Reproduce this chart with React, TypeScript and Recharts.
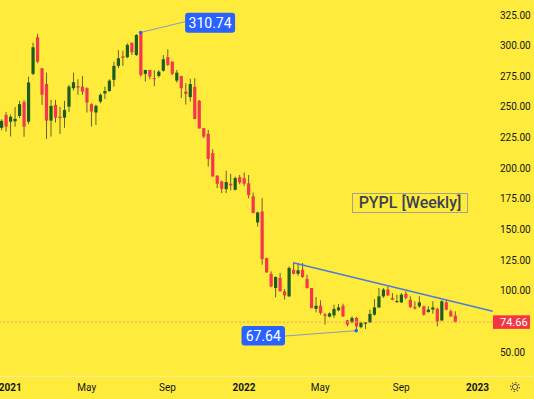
import React from 'react';
import {
  ComposedChart,
  Bar,
  XAxis,
  YAxis,
  ReferenceLine,
  ReferenceDot,
} from 'recharts';

// weekly PYPL candles, Dec 2020 .. Nov 2022
const opens = [
  233, 243.6, 238, 238.4, 242.7, 254, 238, 277, 306.8, 281.6,
  268.8, 238.9, 251.7, 242, 241.3, 250.3, 265.3, 267, 266.6, 265.3,
  252.3, 245.5, 254.4, 261, 263, 272.1, 283.5, 291.2, 290.6, 302.4,
  292.4, 310.6, 277, 280.2, 273.5, 275.3, 279.6, 290.6, 287, 271.5,
  275.3, 262.5, 258, 266.3, 255, 232.7, 228.1, 212.4, 193.9, 189.3,
  183, 187.4, 182.5, 192.8, 192, 187.8, 177.1, 155.9, 164.8, 126.9,
  114, 102.4, 110.6, 99.7, 95.6, 117.3, 114, 117.3, 109.8, 102.4,
  85.4, 88, 80.7, 79.1, 80.1, 84.2, 88, 76, 74.4, 78,
  70.5, 73.3, 74.4, 80.7, 86.6, 95.6, 101.1, 94.3, 91.3, 90.7,
  97.6, 92.9, 87, 87.5, 87.5, 82.9, 84.8, 85.4, 76, 90.7,
  83.4, 79.9,
];
const highs = [
  240, 246, 244, 250, 255, 255.8, 274.8, 302.5, 309.5, 281.6,
  278, 255.8, 255.8, 250, 255, 268, 278, 272.6, 275.3, 266,
  253, 252, 261.2, 266.6, 272.6, 287, 296.5, 295.9, 302, 302.4,
  309.5, 310.74, 280.2, 280.2, 280, 280, 292.4, 297, 287, 280.2,
  275.3, 269.4, 273, 273.4, 255.8, 232.7, 231.4, 215.6, 194.5, 190,
  198, 195.5, 193.3, 194.6, 196.6, 194.5, 180.3, 164.8, 175.7, 127,
  116, 111.9, 114.7, 101.6, 120, 123.3, 122.8, 122.8, 113.3, 102.4,
  95.1, 92.4, 82.1, 82.5, 88.8, 89.4, 89.6, 76.5, 79.4, 78.8,
  75, 74.5, 84.8, 93.4, 102.4, 102.4, 103.8, 98.4, 97, 98.4,
  99.7, 95.6, 91.5, 95.6, 88, 87.5, 91.5, 86.2, 92.4, 92.9,
  84.8, 83.4,
];
const lows = [
  231, 230, 226, 234, 241, 225.7, 236, 276, 285.7, 251.7,
  224, 225.9, 237.3, 228, 233, 246, 263.4, 259.9, 259.9, 245.5,
  234, 235.4, 253, 256.6, 262.5, 266.6, 281.6, 283.5, 289.7, 292.4,
  291.6, 274.8, 270.7, 272.6, 267, 274, 278.8, 283.5, 276, 269.9,
  257.2, 252, 254.4, 240, 232.5, 224.6, 201.5, 193.3, 183.9, 179.8,
  179.8, 182, 181.9, 187, 185.5, 175.5, 163.5, 152.6, 121.4, 115,
  103, 94.8, 99.5, 93, 95, 113.5, 112.4, 110.6, 102, 86,
  82.6, 80.7, 72.6, 78.5, 78, 83.4, 79, 71.2, 73.5, 67.64,
  69.5, 69, 74, 79.9, 86.1, 94.3, 96, 92.4, 90.2, 90.2,
  93, 86.1, 84.8, 86.1, 79.9, 82.1, 81.5, 71.2, 75.3, 84.2,
  79, 74.4,
];
const closes = [
  238.7, 234, 242, 240.3, 252.3, 234, 270, 298.7, 287, 260,
  238.9, 250.9, 241.3, 241, 247.6, 266.6, 270.2, 265.8, 262.5, 253.6,
  246.3, 250.9, 259.9, 263, 271.5, 283.5, 289.7, 290, 300.6, 294.6,
  308.7, 276, 280.2, 274.8, 273, 278.8, 288.9, 284.3, 277, 278,
  265.3, 260.7, 268.7, 240.2, 232.5, 225.9, 207.7, 193.3, 187.4, 183.3,
  188.8, 186, 192, 188.4, 187.4, 178.2, 163.5, 164, 126, 115.1,
  103.7, 111.4, 99.7, 96.4, 118.7, 114, 116.8, 111.4, 102.4, 86,
  88, 82.1, 79.6, 81.7, 85.4, 86.6, 79.3, 72.6, 78, 71.2,
  74, 74.3, 81.3, 86.6, 95.6, 101.1, 96.4, 92.9, 91.8, 97,
  94.3, 87, 85.8, 90.7, 80.7, 84.8, 86.6, 75.3, 91.6, 84.8,
  79.3, 74.66,
];

const timeTicks = [2, 19, 37, 54, 71, 89, 106];
const timeLabels = ['2021', 'May', 'Sep', '2022', 'May', 'Sep', '2023'];
const priceTicks = [50, 100, 125, 150, 175, 200, 225, 250, 275, 300, 325];

const lastPrice = 74.66;
const highMark = { i: 31, value: 310.74 };
const lowMark = { i: 79, value: 67.64 };
const trendStart = { i: 65, value: 123.0 };
const trendEnd = { i: 109.4, value: 83.4 };

const BG = '#FFEB3B';
const UP = '#1B5E20';
const DOWN = '#F5364E';
const WICK = '#66612c';
const FONT = 'Roboto, "Liberation Sans", sans-serif';

const data = opens.map((o, i) => ({
  i,
  open: o,
  high: highs[i],
  low: lows[i],
  close: closes[i],
  range: [lows[i], highs[i]],
}));

const Candle = (props: any) => {
  const { x, y, width, height, payload } = props;
  if (x == null || !payload) return null;
  const top = Math.min(y, y + height);
  const h = Math.abs(height);
  const { open, close, high, low } = payload;
  const k = h / (high - low || 1);
  const cx = x + width / 2;
  const bodyTop = top + (high - Math.max(open, close)) * k;
  const bodyH = Math.max(1, Math.abs(open - close) * k);
  return (
    <g>
      <line x1={cx} x2={cx} y1={top} y2={top + h} stroke={WICK} strokeWidth={1} />
      <rect x={cx - 1.6} y={bodyTop} width={3.2} height={bodyH} fill={close >= open ? UP : DOWN} />
    </g>
  );
};

const PriceTick = (props: any) => {
  const { y, payload } = props;
  return (
    <text x={500} y={y} dy="0.35em" fontSize={10} fill="#131722" fontFamily={FONT}>
      {Number(payload.value).toFixed(2)}
    </text>
  );
};

const TimeTick = (props: any) => {
  const { x, payload } = props;
  const label = timeLabels[timeTicks.indexOf(payload.value)];
  const isYear = /^\d+$/.test(label || '');
  return (
    <text
      x={x}
      y={387}
      dy="0.35em"
      textAnchor="middle"
      fontSize={10}
      fontWeight={isYear ? 700 : 400}
      fill="#131722"
      fontFamily={FONT}
    >
      {label}
    </text>
  );
};

const LastLabel = (props: any) => {
  const vb = props.viewBox;
  if (!vb) return null;
  const x0 = vb.x + vb.width;
  return (
    <g>
      <rect x={x0} y={vb.y - 6.7} width={37} height={13.5} fill="#F23645" />
      <text x={500} y={vb.y} dy="0.36em" fontSize={11} fill="#fff" fontFamily={FONT}>
        {lastPrice.toFixed(2)}
      </text>
    </g>
  );
};

const HighTag = (props: any) => {
  const { cx, cy } = props;
  return (
    <g>
      <line x1={cx} y1={cy} x2={cx + 44.5} y2={cy - 10.8} stroke="#8c9cba" strokeWidth={1} />
      <circle cx={cx} cy={cy} r={1.8} fill="#2962FF" />
      <rect x={cx + 44.5} y={cy - 19.8} width={50} height={20} rx={3} fill="#2962FF" />
      <text x={cx + 69.5} y={cy - 9.8} dy="0.36em" textAnchor="middle" fontSize={14} fill="#fff" fontFamily={FONT}>
        {highMark.value.toFixed(2)}
      </text>
    </g>
  );
};

const LowTag = (props: any) => {
  const { cx, cy } = props;
  return (
    <g>
      <line x1={cx} y1={cy} x2={cx - 71.5} y2={cy + 5.4} stroke="#8c9cba" strokeWidth={1} />
      <circle cx={cx} cy={cy} r={1.8} fill="#2962FF" />
      <rect x={cx - 114.7} y={cy - 4.6} width={43.5} height={19.5} rx={3} fill="#2962FF" />
      <text x={cx - 93} y={cy + 5.2} dy="0.36em" textAnchor="middle" fontSize={14} fill="#fff" fontFamily={FONT}>
        {lowMark.value.toFixed(2)}
      </text>
    </g>
  );
};

export default function App() {
  return (
    <div style={{ position: 'fixed', left: 0, top: 0, width: 534, height: 399, background: BG, overflow: 'hidden' }}>
      <ComposedChart width={534} height={399} data={data} margin={{ top: 0, right: 0, bottom: 0, left: 0 }}>
        <XAxis
          type="number"
          dataKey="i"
          domain={[-0.3, 109.45]}
          allowDataOverflow
          ticks={timeTicks}
          interval={0}
          height={23}
          axisLine={false}
          tickLine={false}
          tick={<TimeTick />}
        />
        <YAxis
          orientation="right"
          type="number"
          width={41}
          domain={[30.67, 337.23]}
          allowDataOverflow
          ticks={priceTicks}
          interval={0}
          axisLine={false}
          tickLine={false}
          tick={<PriceTick />}
        />
        <ReferenceLine
          y={lastPrice}
          stroke="#F49A6A"
          strokeDasharray="2 2"
          label={<LastLabel />}
        />
        <Bar dataKey="range" barSize={3} shape={<Candle />} isAnimationActive={false} />
        <ReferenceLine
          segment={[
            { x: trendStart.i, y: trendStart.value },
            { x: trendEnd.i, y: trendEnd.value },
          ]}
          stroke="#4A7BDE"
          strokeWidth={1.5}
          ifOverflow="visible"
        />
        <ReferenceDot x={highMark.i} y={highMark.value} r={2} shape={(p: any) => <HighTag {...p} />} />
        <ReferenceDot x={lowMark.i} y={lowMark.value} r={2} shape={(p: any) => <LowTag {...p} />} />
      </ComposedChart>
      <div style={{ position: 'absolute', left: 0, top: 375.5, width: 534, height: 0, borderTop: '1px solid #F7EE9C' }} />
      <div
        style={{
          position: 'absolute',
          left: 352,
          top: 192.5,
          width: 116,
          height: 20.5,
          boxSizing: 'border-box',
          border: '1.5px solid #A3A293',
          color: '#3A4253',
          fontFamily: FONT,
          fontSize: 16,
          fontWeight: 500,
          lineHeight: '17.5px',
          textAlign: 'center',
          whiteSpace: 'nowrap',
        }}
      >
        PYPL [Weekly]
      </div>
      <svg style={{ position: 'absolute', left: 509, top: 381 }} width={12} height={12}>
        <circle cx={6} cy={6} r={2.6} fill="none" stroke="#555" strokeWidth={1} />
        <circle cx={6} cy={6} r={4.4} fill="none" stroke="#555" strokeWidth={1.2} strokeDasharray="1.4 2" />
      </svg>
    </div>
  );
}
